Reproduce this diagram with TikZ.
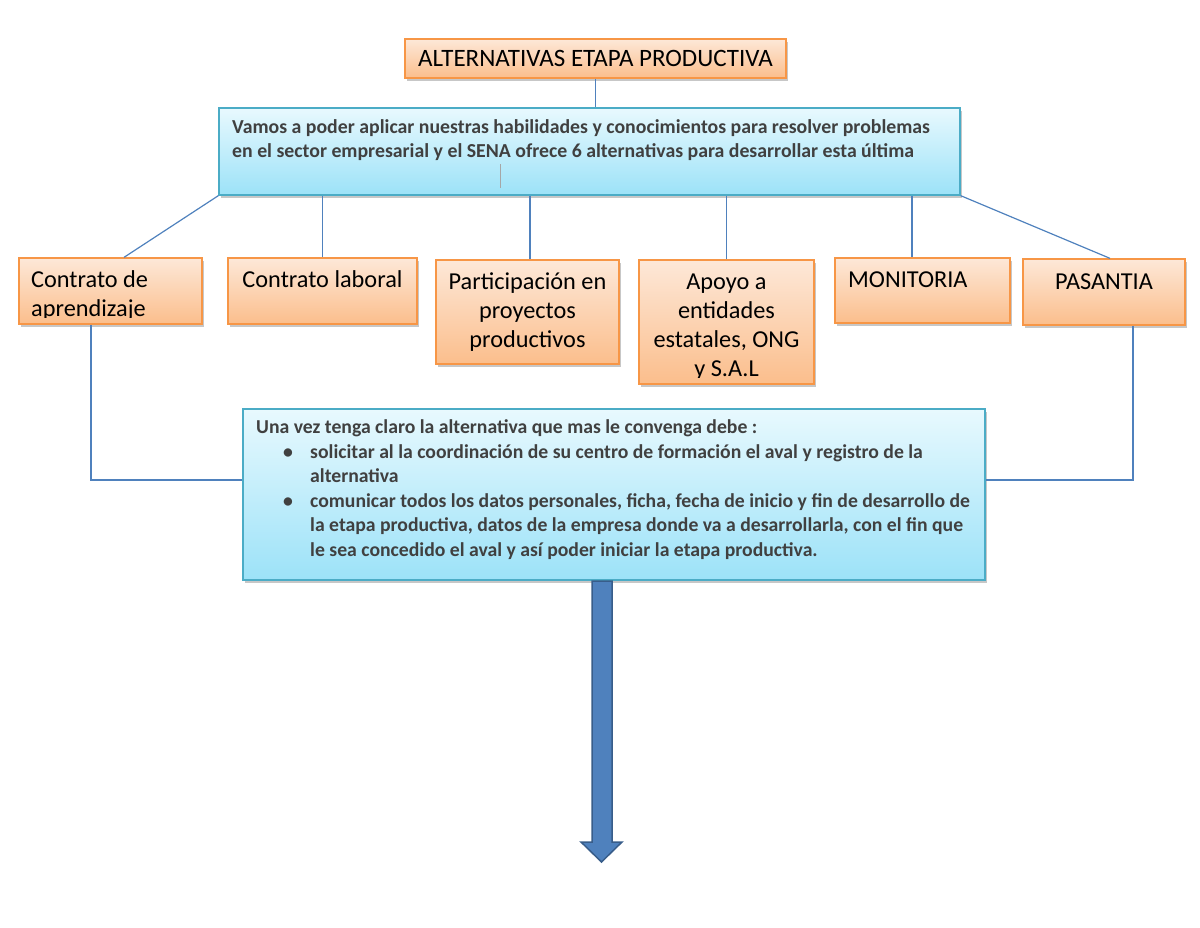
\documentclass[tikz,border=0pt]{standalone}
\usepackage{fontspec}
\setmainfont{Carlito}
\usetikzlibrary{shadows,calc}
\definecolor{obord}{HTML}{F79646}
\definecolor{otop}{HTML}{FDE8D8}
\definecolor{obot}{HTML}{FBBE8C}
\definecolor{bbord}{HTML}{4BACC6}
\definecolor{btop}{HTML}{E8F9FE}
\definecolor{bbot}{HTML}{9CE2F8}
\definecolor{lineblue}{HTML}{4F81BD}
\definecolor{arrfill}{HTML}{4F81BD}
\definecolor{arrdraw}{HTML}{385D8A}
\definecolor{btext}{HTML}{404040}
\begin{document}
\begin{tikzpicture}[x=1pt,y=-1pt,
  shad/.style={drop shadow={shadow xshift=1.5pt,shadow yshift=-2.5pt,fill=black,opacity=0.22}},
  obox/.style={draw=obord,line width=1.3pt,top color=otop,bottom color=obot,shad,inner sep=0pt},
  bbox/.style={draw=bbord,line width=1.3pt,top color=btop,bottom color=bbot,shad,inner sep=0pt},
  conn/.style={draw=lineblue,line width=1.2pt},
  otext/.style={font=\fontsize{24.3}{29}\selectfont,inner sep=0pt,align=center,anchor=base},
  otextl/.style={font=\fontsize{24.3}{29}\selectfont,inner sep=0pt,align=left,anchor=base west},
  btxt/.style={font=\bfseries\fontsize{19.8}{24}\selectfont,text=btext,inner sep=0pt,align=left,anchor=base west},
  ctxt/.style={font=\bfseries\fontsize{19.7}{24.5}\selectfont,text=btext,inner sep=0pt,align=left,anchor=base west},
  arrowst/.style={fill=arrfill,draw=arrdraw,line width=1.5pt,line join=miter}]
\useasboundingbox (0,0) rectangle (1200,927);

% title
\node[obox,minimum width=381pt,minimum height=39pt,font=\fontsize{25}{28}\selectfont] (title) at (595.5,58.5) {ALTERNATIVAS ETAPA PRODUCTIVA};

% first blue box (base anchor = baseline of the last line)
\node[bbox,minimum width=741pt,minimum height=87pt] (intro) at (589.5,151.5) {};
\node[btxt] (introtxt) at (232,157) {Vamos a poder aplicar nuestras habilidades y conocimientos para resolver problemas\\en el sector empresarial y el SENA ofrece 6 alternativas para desarrollar esta última};
\draw[gray!70,line width=0.6pt] (500,164) -- (500,188);

% six alternatives
\node[obox,minimum width=183pt,minimum height=66pt] (b1) at (110.5,291) {};
\node[obox,minimum width=189pt,minimum height=66pt] (b2) at (322.5,291) {};
\node[obox,minimum width=183pt,minimum height=104pt] (b3) at (527.5,312) {};
\node[obox,minimum width=175pt,minimum height=124pt] (b4) at (726.5,322) {};
\node[obox,minimum width=175pt,minimum height=65pt] (b5) at (922.5,290.5) {};
\node[obox,minimum width=162pt,minimum height=66pt] (b6) at (1104,292) {};

\begin{scope}
\clip (b1.north west) rectangle ($(b1.south east)+(0,-7)$);
\node[otextl] (t1) at (31,316) {Contrato de\\aprendizaje};
\end{scope}
\node[otext] (t2) at (322.5,287) {Contrato laboral};
\node[otext] (t3) at (527.5,347) {Participación en\\proyectos\\productivos};
\begin{scope}
\clip (b4.north west) rectangle ($(b4.south east)+(0,-7.3)$);
\node[otext] (t4) at (726.5,376.5) {Apoyo a\\entidades\\estatales, ONG\\y S.A.L};
\end{scope}
\node[otextl] (t5) at (848,287) {MONITORIA};
\node[otext] (t6) at (1104,289) {PASANTIA};

% second blue box
\node[bbox,minimum width=742pt,minimum height=171pt] (steps) at (614,494.5) {};
\node[ctxt] (s0) at (256,433.5) {Una vez tenga claro la alternativa que mas le convenga debe :};
\node[ctxt] (bul1) at (283,458) {•};
\node[ctxt] (s1) at (310,482.5) {solicitar al la coordinación de su centro de formación el aval y registro de la\\alternativa};
\node[ctxt] (bul2) at (283,507) {•};
\node[ctxt] (s2) at (310,556) {comunicar todos los datos personales, ficha, fecha de inicio y fin de desarrollo de\\la etapa productiva, datos de la empresa donde va a desarrollarla, con el fin que\\le sea concedido el aval y así poder iniciar la etapa productiva.};

% connectors
\draw[conn] (title.south) -- (title.south |- intro.north);
\draw[conn] (intro.south west) -- ($(b1.north)+(13.5,0)$);
\draw[conn] (intro.south -| b2.north) -- (b2.north);
\draw[conn] ($(intro.south -| b3.north)+(2.5,0)$) -- ($(b3.north)+(2.5,0)$);
\draw[conn] (intro.south -| b4.north) -- (b4.north);
\draw[conn] ($(intro.south -| b5.north)+(-10.5,0)$) -- ($(b5.north)+(-10.5,0)$);
\draw[conn] (intro.south east) -- ($(b6.north)+(6,0)$);
\coordinate (jl) at ($(steps.west)+(0,-14.5)$);
\coordinate (jr) at ($(steps.east)+(0,-14.5)$);
\draw[conn] ($(b1.south)+(-19.5,0)$) |- (jl);
\draw[conn] ($(b6.south)+(29,0)$) |- (jr);

% big arrow
\draw[arrowst] (592,581) -- (612,581) -- (612,842) -- (622,842) -- (601.5,862) -- (581,842) -- (592,842) -- cycle;
\end{tikzpicture}
\end{document}
